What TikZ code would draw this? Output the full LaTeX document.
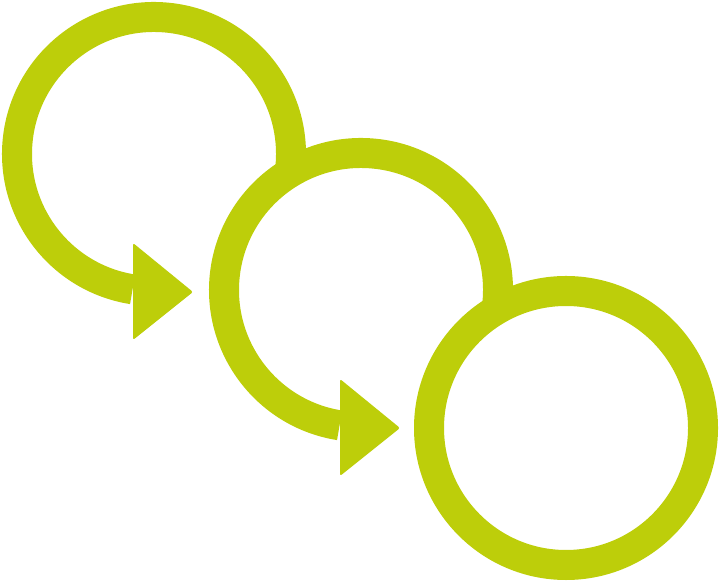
\documentclass[tikz,border=0pt]{standalone}
\usetikzlibrary{positioning,calc}
\definecolor{ringGreen}{RGB}{189,206,10}

\begin{document}
\begin{tikzpicture}[x=0.025cm, y=0.025cm,
    ring/.style={draw=ringGreen, line width=0.75cm},
    headtip/.style={fill=ringGreen, rounded corners=1.5pt}]
  \useasboundingbox (0,0) rectangle (720,582);
  \coordinate (c1) at (154,428);
  \coordinate (c2) at (361,292);
  \coordinate (c3) at (566,154);
  % turning rings with their heads
  \foreach \c in {c1,c2} {
    \draw[ring] ($(\c)+(-6:137)$) arc[start angle=-6, end angle=261, radius=137];
    \fill[headtip] ($(\c)+(-21,-89)$) -- ++(60,-49) -- ++(-60,-48) -- cycle;
  }
  % last ring
  \draw[ring] (c3) circle[radius=137];
\end{tikzpicture}
\end{document}
